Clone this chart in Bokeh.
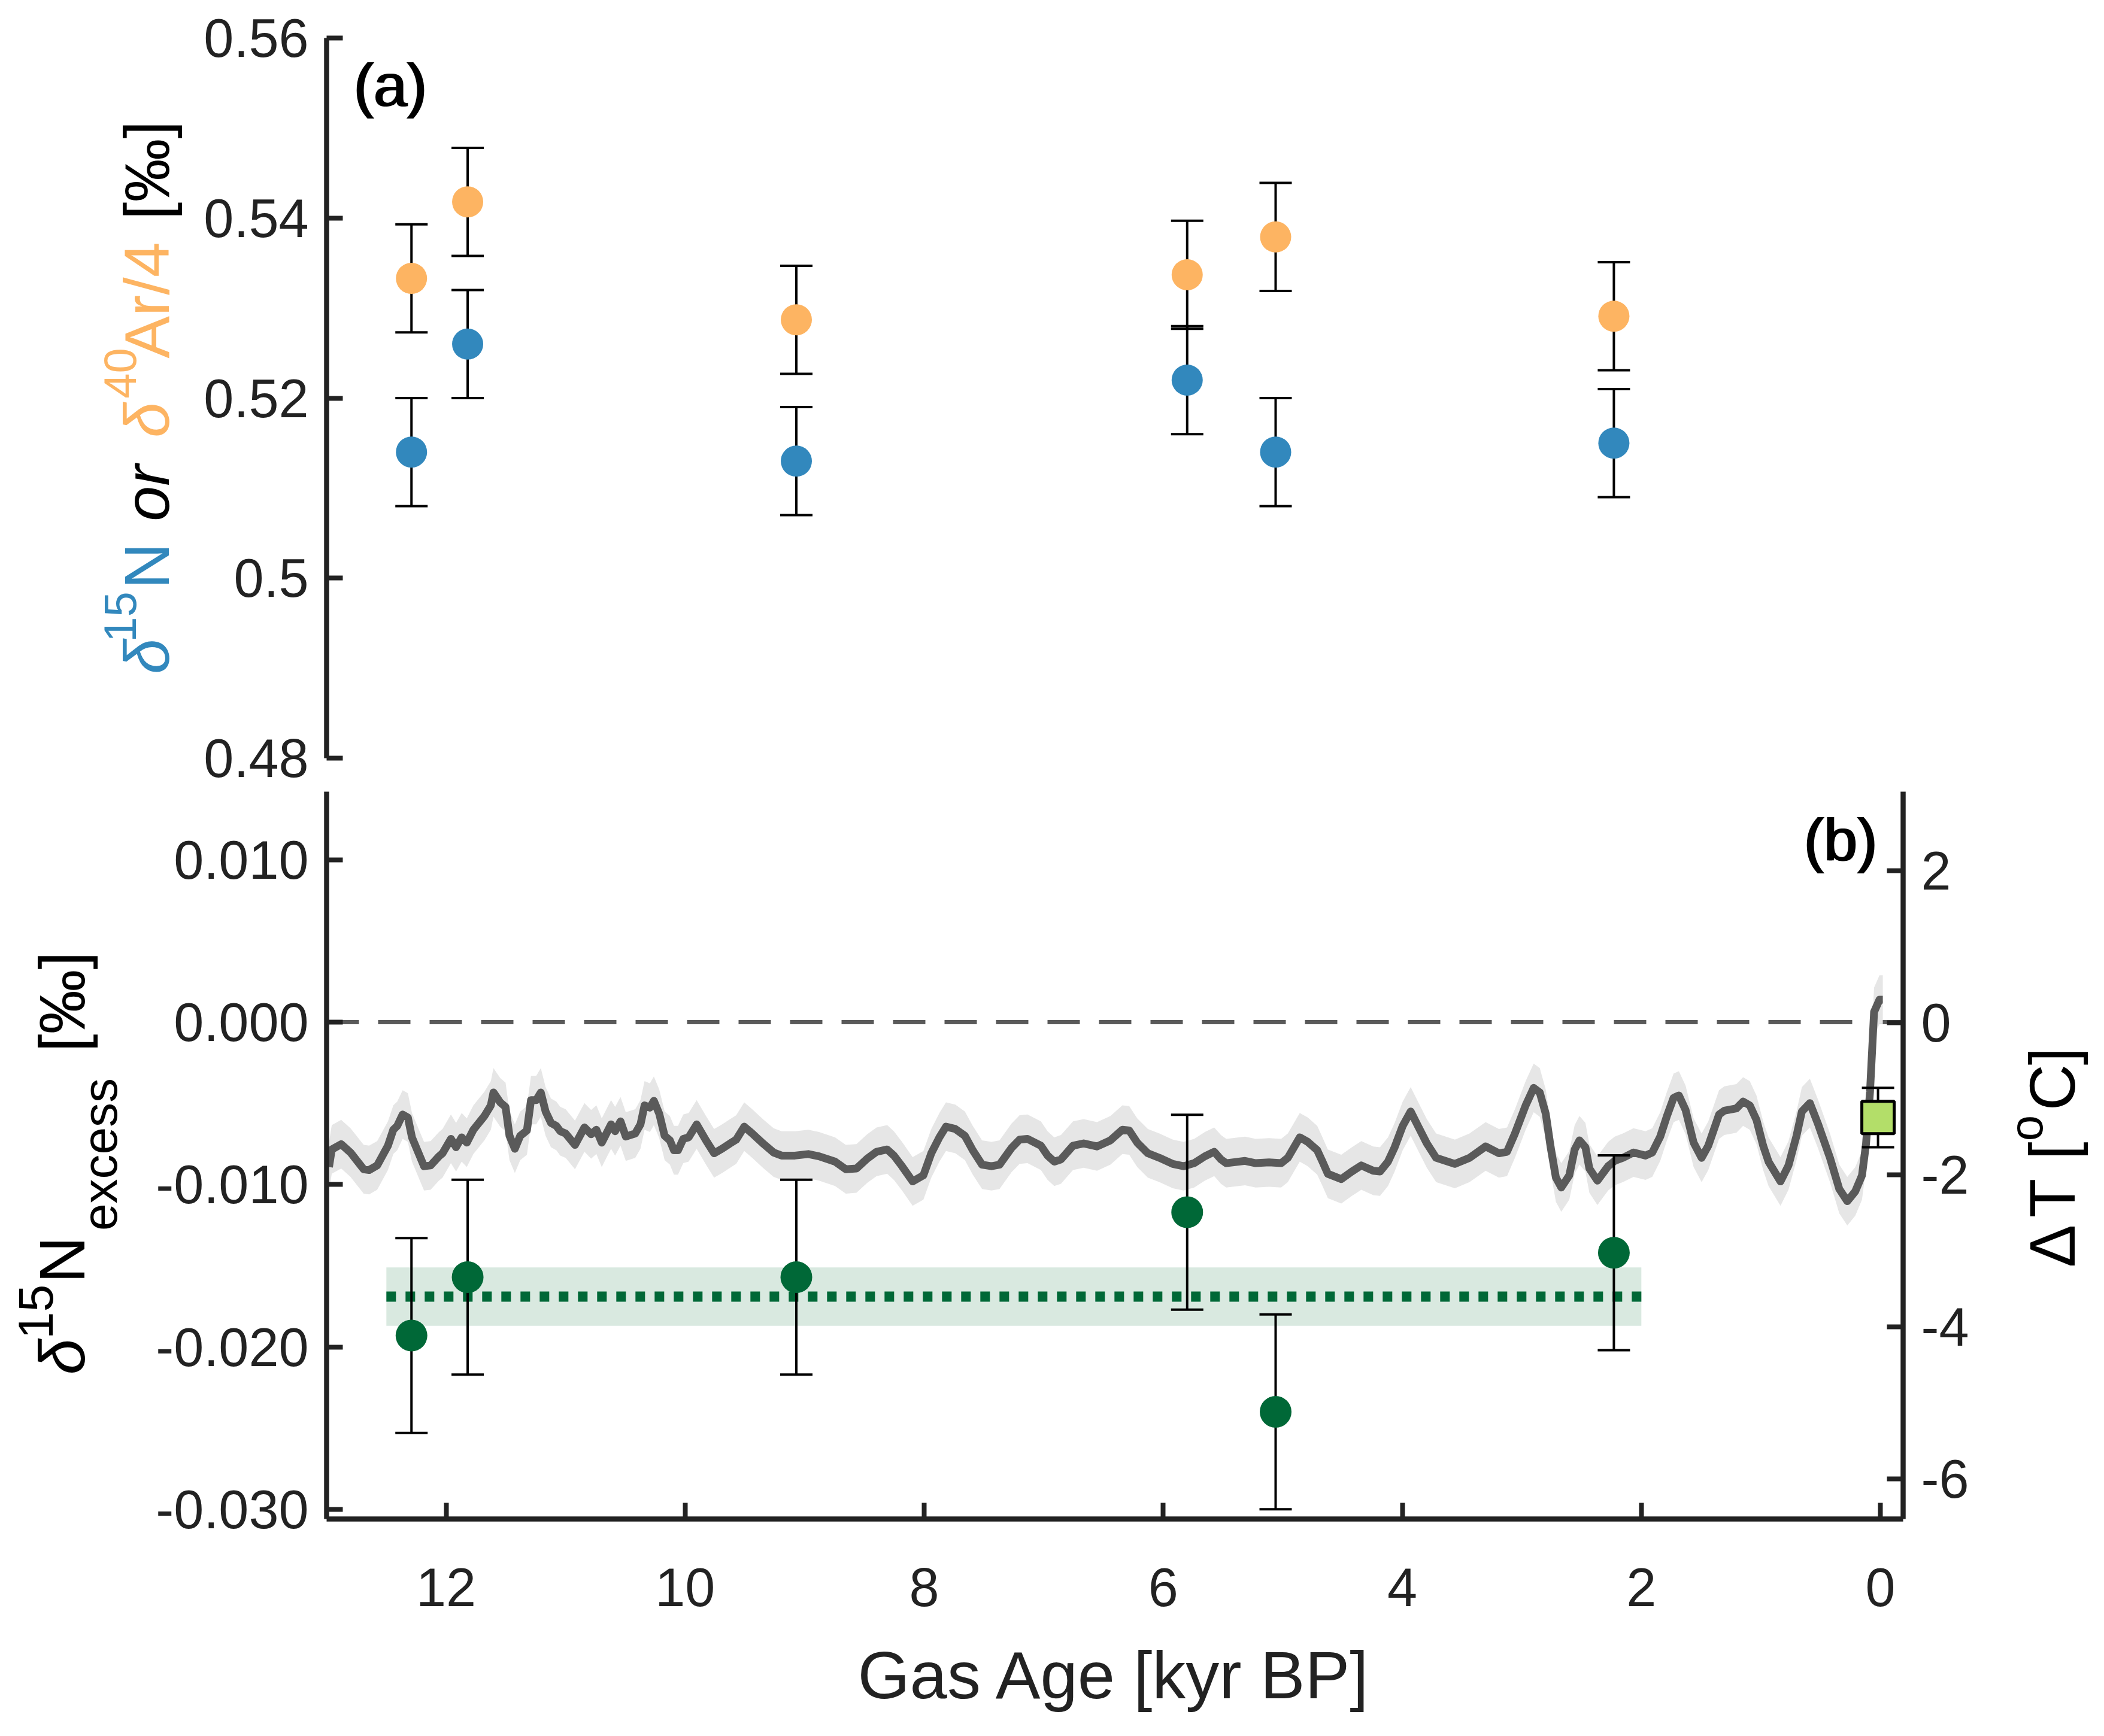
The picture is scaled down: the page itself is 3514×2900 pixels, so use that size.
import math

from bokeh.plotting import figure
from bokeh.layouts import column, row
from bokeh.models import ColumnDataSource, Range1d, LinearAxis, FixedTicker, Span
from bokeh.core.properties import value
from bokeh.embed import file_html
from bokeh.resources import INLINE

FONT = "Liberation Sans"
INK = "#222222"
BLUE = "#3288bd"
ORANGE = "#fdb462"
GREEN = "#006837"

# ---- panel (a): d15N and d40Ar/4 ----
ages = [12.29, 11.82, 9.07, 5.80, 5.06, 2.23]
d15n = [0.514, 0.526, 0.513, 0.522, 0.514, 0.515]
d15n_err = [0.006, 0.006, 0.006, 0.006, 0.006, 0.006]
d40ar4 = [0.5333, 0.5418, 0.5287, 0.5337, 0.5379, 0.5291]
d40ar4_err = [0.006, 0.006, 0.006, 0.006, 0.006, 0.006]

# ---- panel (b): d15N excess and temperature ----
excess = [-0.0193, -0.0157, -0.0157, -0.0117, -0.0240, -0.0142]
excess_err = [0.006, 0.006, 0.006, 0.006, 0.006, 0.006]
excess_mean = -0.0169
excess_mean_lo = -0.0187
excess_mean_hi = -0.0151
mean_ages = [12.5, 2.0]

temp_age = [12.98, 12.957, 12.878, 12.80, 12.755, 12.69, 12.644, 12.577, 12.487, 12.442,
            12.409, 12.364, 12.32, 12.286, 12.185, 12.13, 12.06, 12.03, 11.96, 11.917,
            11.87, 11.827, 11.772, 11.68, 11.626, 11.604, 11.548, 11.503, 11.47, 11.425,
            11.38, 11.324, 11.29, 11.246, 11.208, 11.168, 11.123, 11.078, 11.045, 11.0,
            10.922, 10.843, 10.787, 10.743, 10.698, 10.62, 10.586, 10.541, 10.497, 10.418,
            10.374, 10.34, 10.295, 10.262, 10.217, 10.172, 10.128, 10.094, 10.06, 10.016,
            9.971, 9.904, 9.826, 9.758, 9.691, 9.624, 9.573, 9.506, 9.439, 9.35,
            9.26, 9.193, 9.081, 8.97, 8.88, 8.746, 8.656, 8.567, 8.477, 8.399,
            8.31, 8.254, 8.186, 8.097, 8.007, 7.941, 7.873, 7.818, 7.74, 7.66,
            7.594, 7.516, 7.437, 7.37, 7.27, 7.202, 7.136, 7.024, 6.968, 6.912,
            6.856, 6.755, 6.666, 6.554, 6.442, 6.342, 6.285, 6.218, 6.129, 6.032,
            5.92, 5.831, 5.741, 5.652, 5.574, 5.518, 5.473, 5.316, 5.227, 5.115,
            5.014, 4.958, 4.858, 4.791, 4.712, 4.668, 4.623, 4.511, 4.422, 4.343,
            4.243, 4.187, 4.12, 4.064, 3.997, 3.93, 3.863, 3.795, 3.717, 3.56,
            3.438, 3.303, 3.192, 3.124, 3.058, 2.968, 2.901, 2.85, 2.80, 2.759,
            2.715, 2.67, 2.603, 2.558, 2.518, 2.468, 2.435, 2.368, 2.278, 2.223,
            2.155, 2.066, 1.965, 1.909, 1.842, 1.786, 1.73, 1.686, 1.63, 1.563,
            1.496, 1.44, 1.35, 1.306, 1.205, 1.149, 1.093, 1.037, 0.981, 0.936,
            0.836, 0.769, 0.702, 0.657, 0.59, 0.523, 0.422, 0.344, 0.277, 0.21,
            0.154, 0.12, 0.087, 0.053, 0.008, -0.02]
temp_dT = [-1.90, -1.67, -1.60, -1.71, -1.80, -1.93, -1.94, -1.88, -1.62, -1.41,
           -1.36, -1.21, -1.25, -1.51, -1.89, -1.88, -1.76, -1.72, -1.53, -1.64,
           -1.51, -1.58, -1.41, -1.23, -1.09, -0.92, -1.05, -1.11, -1.49, -1.66,
           -1.49, -1.42, -1.02, -1.02, -0.92, -1.17, -1.32, -1.36, -1.43, -1.46,
           -1.61, -1.38, -1.47, -1.41, -1.58, -1.34, -1.43, -1.30, -1.50, -1.46,
           -1.34, -1.09, -1.12, -1.03, -1.20, -1.49, -1.55, -1.68, -1.68, -1.53,
           -1.51, -1.34, -1.55, -1.72, -1.66, -1.59, -1.54, -1.37, -1.46, -1.59,
           -1.71, -1.75, -1.75, -1.73, -1.76, -1.83, -1.93, -1.92, -1.79, -1.70,
           -1.67, -1.75, -1.89, -2.09, -2.01, -1.72, -1.51, -1.37, -1.40, -1.49,
           -1.68, -1.87, -1.89, -1.87, -1.65, -1.54, -1.53, -1.62, -1.75, -1.83,
           -1.80, -1.62, -1.59, -1.63, -1.55, -1.41, -1.42, -1.58, -1.72, -1.78,
           -1.86, -1.89, -1.85, -1.76, -1.70, -1.80, -1.85, -1.82, -1.85, -1.84,
           -1.85, -1.78, -1.51, -1.57, -1.68, -1.83, -1.99, -2.06, -1.96, -1.88,
           -1.95, -1.96, -1.83, -1.64, -1.36, -1.17, -1.38, -1.59, -1.78, -1.86,
           -1.78, -1.63, -1.72, -1.70, -1.46, -1.09, -0.86, -0.92, -1.20, -1.64,
           -2.04, -2.17, -2.01, -1.67, -1.55, -1.64, -1.92, -2.08, -1.89, -1.82,
           -1.78, -1.71, -1.75, -1.71, -1.50, -1.23, -0.99, -0.96, -1.15, -1.58,
           -1.78, -1.62, -1.21, -1.16, -1.13, -1.04, -1.09, -1.28, -1.62, -1.83,
           -2.09, -1.88, -1.49, -1.17, -1.06, -1.33, -1.78, -2.19, -2.35, -2.22,
           -2.01, -1.59, -0.91, 0.14, 0.30, 0.30]
temp_sigma = 0.32

modern_age = [0.02]
modern_dT = [-1.25]
modern_err = [0.39]

x_ticks = [0, 2, 4, 6, 8, 10, 12]
a_ticks = [0.48, 0.50, 0.52, 0.54, 0.56]
a_tick_labels = ["0.48", "0.5", "0.52", "0.54", "0.56"]
b_ticks = [-0.03, -0.02, -0.01, 0.0, 0.01]
b_tick_labels = ["-0.030", "-0.020", "-0.010", "0.000", "0.010"]
t_ticks = [-6, -4, -2, 0, 2]
t_tick_labels = ["-6", "-4", "-2", "0", "2"]

# age axis runs right to left: plot against -age on an ordinary range
AGE_OLD, AGE_YOUNG = 13.0, -0.19
A0, A1 = 0.48, 0.56
B0, B1 = -0.0306, 0.0142
T0, T1 = -6.53, 3.036


def neg(vals):
    return [-v for v in vals]


def style_axis(ax):
    ax.axis_line_color = INK
    ax.axis_line_width = 8.5
    ax.major_tick_line_color = INK
    ax.major_tick_line_width = 8
    ax.major_tick_in = 27
    ax.major_tick_out = 0
    ax.minor_tick_line_color = None
    ax.major_label_text_font = FONT
    ax.major_label_text_font_size = "90px"
    ax.major_label_text_color = INK
    ax.major_label_standoff = 30


def error_bars(p, src, y_lo, y_hi, **kw):
    # stem plus a flat cap at each end
    p.segment(x0="x", y0=y_lo, x1="x", y1=y_hi, source=src, line_color="black", line_width=4, **kw)
    for end in (y_lo, y_hi):
        p.scatter("x", end, source=src, marker="dash", size=54, line_color="black",
                  line_width=4, **kw)


def panel_tag(p, x, y, text, align):
    # drawn twice, 3px apart, for a heavier look
    src = ColumnDataSource(dict(x=[x, x], y=[y, y], text=[text, text], dx=[0, 3],
                                fs=["100px", "100px"], col=["black", "black"], sty=["normal", "normal"]))
    p.text(x="x", y="y", text="text", source=src, x_offset="dx", text_font=value(FONT),
           text_font_size="fs", text_color="col", text_font_style="sty", text_align=align,
           text_baseline="middle")


def label_strip(x0, x1, frame_top, frame_bottom, height, pieces):
    # bare figure beside a panel; its frame lines up with the panel's frame,
    # so the y range is given in page pixels of that frame
    f = figure(width=x1 - x0, height=height, x_range=Range1d(x0, x1),
               y_range=Range1d(frame_bottom, frame_top),
               min_border=0, x_axis_location=None, y_axis_location=None,
               output_backend="svg", toolbar_location=None)
    f.grid.visible = False
    f.outline_line_color = None
    src = ColumnDataSource(dict(
        x=[q[1] for q in pieces], y=[q[2] for q in pieces],
        text=[q[0] for q in pieces], fs=[f"{q[3]}px" for q in pieces],
        col=[q[4] for q in pieces], sty=[q[5] for q in pieces],
    ))
    f.text(x="x", y="y", text="text", source=src, angle=math.pi / 2, text_font=value(FONT),
           text_font_size="fs", text_color="col", text_font_style="sty",
           text_align="center", text_baseline="middle")
    return f


# ---------------- panel (a) ----------------
p1 = figure(width=3190, height=1321, x_range=Range1d(-AGE_OLD, -AGE_YOUNG), y_range=Range1d(A0, A1),
            min_border_left=235, min_border_right=322, min_border_top=63, min_border_bottom=55,
            output_backend="svg", toolbar_location=None)
p1.xaxis.visible = False
p1.grid.visible = False
p1.outline_line_color = None
p1.yaxis.ticker = FixedTicker(ticks=a_ticks)
p1.yaxis.major_label_overrides = dict(zip(a_ticks, a_tick_labels))
style_axis(p1.yaxis[0])

src_a = ColumnDataSource(dict(
    x=neg(ages), n=d15n, ar=d40ar4,
    n_lo=[v - e for v, e in zip(d15n, d15n_err)], n_hi=[v + e for v, e in zip(d15n, d15n_err)],
    ar_lo=[v - e for v, e in zip(d40ar4, d40ar4_err)], ar_hi=[v + e for v, e in zip(d40ar4, d40ar4_err)],
))
error_bars(p1, src_a, "ar_lo", "ar_hi")
error_bars(p1, src_a, "n_lo", "n_hi")
p1.scatter("x", "ar", source=src_a, size=52, color=ORANGE, line_color=None)
p1.scatter("x", "n", source=src_a, size=52, color=BLUE, line_color=None)
panel_tag(p1, -12.78, 0.5548, "(a)", "left")

lab_a = label_strip(0, 310, 63, 1266, 1321, [
    ("δ", 244, 1096, 106, BLUE, "italic"),
    ("15", 200, 1030, 76, BLUE, "normal"),
    ("N", 244, 945, 106, BLUE, "normal"),
    ("or", 244, 823, 106, "black", "italic"),
    ("δ", 244, 701, 106, ORANGE, "italic"),
    ("40", 200, 623, 76, ORANGE, "normal"),
    ("Ar/4", 244, 501, 106, ORANGE, "normal"),
    ("[‰]", 244, 284, 106, "black", "normal"),
])

# ---------------- panel (b) ----------------
p2 = figure(width=3090, height=1575, x_range=Range1d(-AGE_OLD, -AGE_YOUNG), y_range=Range1d(B0, B1),
            min_border_left=335, min_border_right=122, min_border_top=1, min_border_bottom=359,
            output_backend="svg", toolbar_location=None)
p2.extra_y_ranges = {"dT": Range1d(T0, T1)}
p2.grid.visible = False
p2.outline_line_color = None
p2.yaxis.ticker = FixedTicker(ticks=b_ticks)
p2.yaxis.major_label_overrides = dict(zip(b_ticks, b_tick_labels))
style_axis(p2.yaxis[0])
p2.xaxis.ticker = FixedTicker(ticks=neg(x_ticks))
p2.xaxis.major_label_overrides = {-t: str(t) for t in x_ticks}
style_axis(p2.xaxis[0])
p2.xaxis.major_label_standoff = 82
p2.xaxis.axis_label = "Gas Age [kyr BP]"
p2.xaxis.axis_label_text_font = FONT
p2.xaxis.axis_label_text_font_size = "112px"
p2.xaxis.axis_label_text_font_style = "normal"
p2.xaxis.axis_label_text_color = INK
p2.xaxis.axis_label_standoff = 50

right = LinearAxis(y_range_name="dT", ticker=FixedTicker(ticks=t_ticks),
                   major_label_overrides=dict(zip(t_ticks, t_tick_labels)))
style_axis(right)
p2.add_layout(right, "right")

p2.add_layout(Span(location=0, dimension="width", line_color="#5a5a5a", line_width=7,
                   line_dash="54 32", level="underlay"))

src_t = ColumnDataSource(dict(
    x=neg(temp_age), dT=temp_dT,
    lo=[v - temp_sigma for v in temp_dT], hi=[v + temp_sigma for v in temp_dT],
))
p2.varea(x="x", y1="lo", y2="hi", source=src_t, color="#e6e6e6", y_range_name="dT")
p2.line("x", "dT", source=src_t, line_color="#5a5a5a", line_width=13, y_range_name="dT",
        line_join="round")

p2.varea(x=neg(mean_ages), y1=[excess_mean_lo] * 2, y2=[excess_mean_hi] * 2, color="#d9e9e0")
p2.line(neg(mean_ages), [excess_mean] * 2, line_color=GREEN, line_width=17, line_dash="16 16")

src_b = ColumnDataSource(dict(
    x=neg(ages), ex=excess,
    lo=[v - e for v, e in zip(excess, excess_err)], hi=[v + e for v, e in zip(excess, excess_err)],
))
src_m = ColumnDataSource(dict(
    x=neg(modern_age), dT=modern_dT,
    lo=[v - e for v, e in zip(modern_dT, modern_err)], hi=[v + e for v, e in zip(modern_dT, modern_err)],
))
error_bars(p2, src_b, "lo", "hi")
error_bars(p2, src_m, "lo", "hi", y_range_name="dT")
p2.scatter("x", "ex", source=src_b, size=53, color=GREEN, line_color=None)
p2.scatter("x", "dT", source=src_m, marker="square", size=54, fill_color="#b3de69",
           line_color="black", line_width=5, y_range_name="dT")
panel_tag(p2, -0.034, 0.01123, "(b)", "right")

lab_b = label_strip(0, 210, 1322, 2537, 1575, [
    ("δ", 103, 2266, 108, "black", "italic"),
    ("15", 59, 2191, 82, "black", "normal"),
    ("N", 103, 2104, 108, "black", "normal"),
    ("excess", 166, 1928, 82, "black", "normal"),
    ("[‰]", 103, 1673, 108, "black", "normal"),
])
lab_r = label_strip(3300, 3500, 1322, 2537, 1575, [
    ("Δ", 3427, 2081, 107, "black", "normal"),
    ("T", 3427, 2001, 107, "black", "normal"),
    ("[", 3427, 1922, 107, "black", "normal"),
    ("o", 3383, 1884, 78, "black", "normal"),
    ("C", 3427, 1816, 107, "black", "normal"),
    ("]", 3427, 1764, 107, "black", "normal"),
])

p = column(row(lab_a, p1), row(lab_b, p2, lab_r))

open("out.html", "w").write(file_html(p, INLINE))
